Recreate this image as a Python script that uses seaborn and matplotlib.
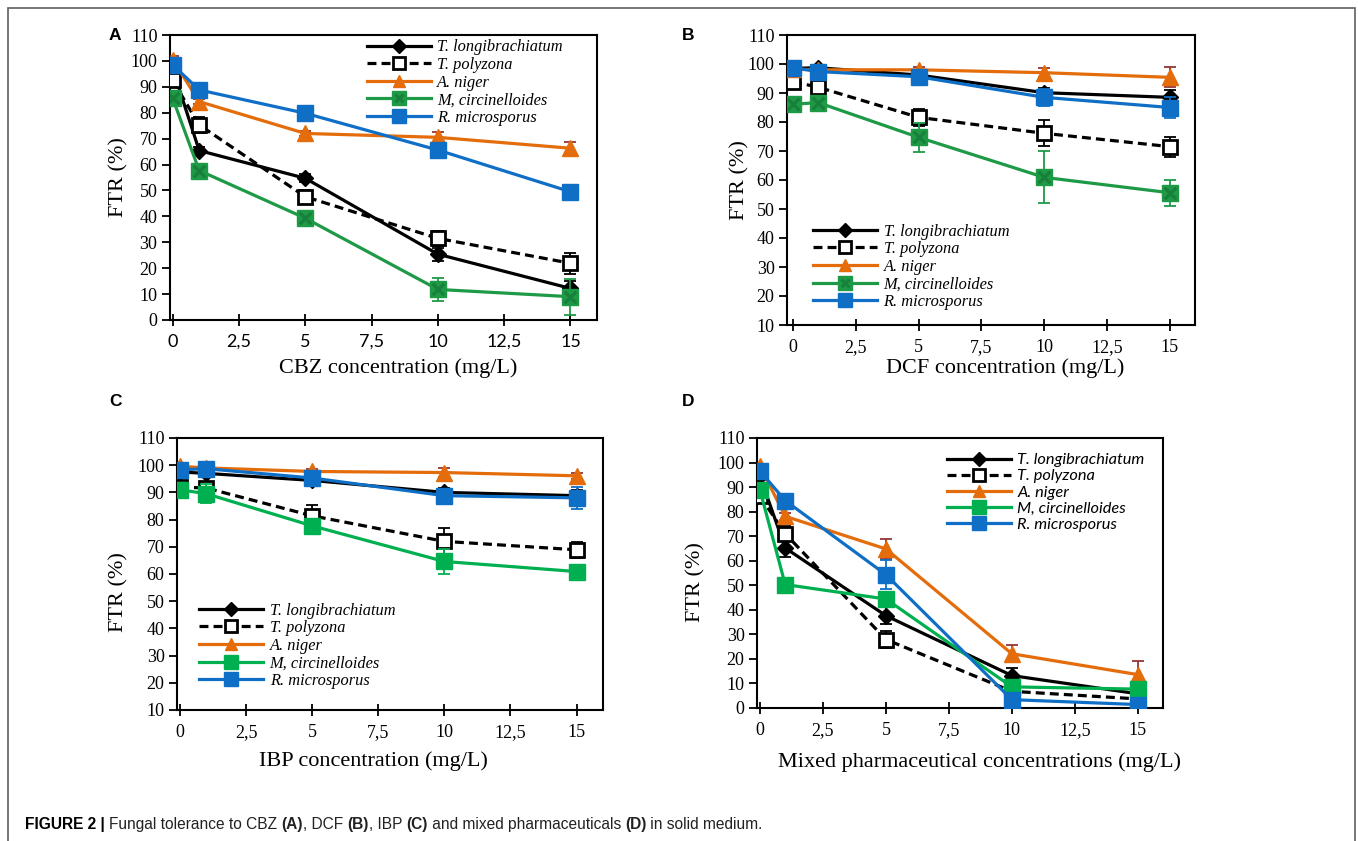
import numpy as np
import pandas as pd
import matplotlib.pyplot as plt
import seaborn as sns
from matplotlib.lines import Line2D
from matplotlib.legend_handler import HandlerTuple
from matplotlib.patches import Rectangle

conc = [0, 1, 5, 10, 15]
species = ['T. longibrachiatum', 'T. polyzona', 'A. niger', 'M, circinelloides', 'R. microsporus']
xtick_vals = [0, 2.5, 5, 7.5, 10, 12.5, 15]
xtick_labels = ['0', '2,5', '5', '7,5', '10', '12,5', '15']

# FTR (%) per species, rows in the order of `species`
cbz_ftr = [[97.0, 65.4, 54.7, 25.4, 12.2],
           [92.5, 75.3, 47.6, 31.5, 21.9],
           [100.5, 84.3, 72.0, 70.5, 66.3],
           [85.6, 57.7, 39.3, 11.8, 9.0],
           [98.5, 88.8, 79.8, 65.6, 49.5]]
cbz_err = [[1.5, 1.5, 1.5, 2.5, 3.0],
           [2.0, 3.0, 2.5, 3.0, 4.0],
           [1.5, 1.0, 1.0, 2.0, 2.5],
           [1.5, 1.5, 1.5, 4.5, 7.0],
           [1.0, 1.0, 1.0, 1.5, 1.0]]

dcf_ftr = [[98.5, 98.7, 96.2, 90.1, 88.5],
           [93.9, 92.0, 81.6, 76.1, 71.5],
           [98.2, 98.0, 98.0, 97.0, 95.4],
           [86.1, 86.7, 74.7, 60.9, 55.6],
           [98.7, 97.4, 95.6, 88.5, 85.0]]
dcf_err = [[1.0, 1.0, 1.0, 1.5, 2.5],
           [1.5, 2.0, 3.0, 4.5, 3.5],
           [1.0, 1.0, 1.0, 1.5, 3.5],
           [1.0, 1.0, 5.0, 9.0, 4.5],
           [1.0, 1.0, 1.5, 3.0, 3.5]]

ibp_ftr = [[97.5, 97.0, 94.4, 90.0, 88.8],
           [92.0, 91.6, 81.4, 72.0, 68.9],
           [99.6, 99.0, 97.7, 97.3, 96.1],
           [91.0, 89.5, 77.7, 64.6, 60.9],
           [98.3, 98.7, 95.3, 88.8, 88.0]]
ibp_err = [[1.0, 1.0, 1.5, 1.5, 2.0],
           [1.5, 1.5, 4.0, 5.0, 3.0],
           [1.0, 1.0, 1.0, 1.5, 1.0],
           [1.5, 3.5, 1.5, 4.5, 1.5],
           [1.0, 1.0, 1.5, 1.5, 4.0]]

mix_ftr = [[94.4, 65.2, 37.6, 13.2, 5.8],
           [86.3, 71.0, 27.9, 6.8, 3.7],
           [98.5, 78.1, 64.8, 22.1, 13.6],
           [88.7, 50.3, 44.4, 8.6, 7.7],
           [96.5, 84.5, 54.3, 3.4, 1.4]]
mix_err = [[1.5, 3.5, 3.5, 3.0, 1.0],
           [2.0, 3.0, 3.5, 1.0, 1.0],
           [1.0, 1.5, 4.0, 3.5, 5.5],
           [1.0, 1.0, 1.5, 1.0, 1.0],
           [1.0, 1.0, 6.0, 1.0, 1.0]]

xlabels = ['CBZ concentration (mg/L)', 'DCF concentration (mg/L)',
           'IBP concentration (mg/L)', 'Mixed pharmaceutical concentrations (mg/L)']

plt.rcParams['font.family'] = ['Liberation Serif', 'DejaVu Serif']

W, H = 1358, 841
fig = plt.figure(figsize=(W / 100, H / 100), dpi=100)


def px_axes(left, top, right, bottom):
    return fig.add_axes([left / W, 1 - bottom / H, (right - left) / W, (bottom - top) / H])


def draw_panel(ax, ftr, err, green, green_x, ymin, xmin, leg_xy, leg_font, tick_font, xtick_size):
    colors = ['#000000', '#000000', '#E46C0A', green, '#0F6FC6']
    ecolors = ['#000000', '#000000', '#943634', green, '#0F6FC6']
    markers = ['D', 's', '^', 's', 's']
    sizes = [8, 10, 11, 12, 12]
    for i, name in enumerate(species):
        ls = (0, (2.8, 1.6)) if i == 1 else '-'
        mfc = 'white' if i == 1 else colors[i]
        ax.errorbar(conc, ftr[i], yerr=err[i], fmt='none', ecolor=ecolors[i],
                    elinewidth=1.3, capsize=4, capthick=1.3, zorder=2 + i, label='_nolegend_')
        sns.lineplot(x=conc, y=ftr[i], ax=ax, color=colors[i], lw=2.3, linestyle=ls,
                     marker=markers[i], markersize=sizes[i], mfc=mfc, mec=colors[i],
                     mew=2 if i == 1 else 1, label=name, zorder=2.5 + i)
        if i == 3 and green_x:
            sns.scatterplot(x=conc, y=ftr[i], ax=ax, marker='x', s=70, color='#17803A',
                            linewidth=2.3, zorder=2.6 + i, legend=False)

    ax.set_xlim(xmin, 16)
    ax.set_ylim(ymin, 110)
    ax.set_xticks(xtick_vals)
    ax.set_xticklabels(xtick_labels)
    ax.set_yticks(range(ymin, 111, 10))
    for t in ax.get_xticklabels():
        t.set_fontfamily(tick_font)
        t.set_fontsize(xtick_size)
    for t in ax.get_yticklabels():
        t.set_fontsize(13)
    ax.tick_params(axis='y', direction='out', length=6, width=1.3, pad=3)
    ax.tick_params(axis='x', direction='inout', length=8, width=1.3, pad=6)
    for s in ax.spines.values():
        s.set_color('black')
        s.set_linewidth(1.5)

    handles, labels = ax.get_legend_handles_labels()
    if green_x:
        xh = Line2D([], [], marker='x', ls='', color='#17803A', ms=7, mew=2.2)
        handles[3] = (handles[3], xh)
    ax.legend(handles, labels, loc='upper left', bbox_to_anchor=leg_xy, frameon=False,
              borderpad=0, borderaxespad=0, handlelength=3.9, handletextpad=0.4,
              labelspacing=0.1, markerscale=0.85, prop=leg_font,
              handler_map={tuple: HandlerTuple(ndivide=1)})


serif_it = dict(family='Liberation Serif', style='italic', size=11.8)
sans_it = dict(family='Lato', style='italic', size=11.8)

axA = px_axes(170, 35, 597, 320)
draw_panel(axA, cbz_ftr, cbz_err, '#1E9A47', True, 0, -0.1, (0.461, 0.985), serif_it, 'Lato', 13)
axB = px_axes(787, 35, 1195, 325)
draw_panel(axB, dcf_ftr, dcf_err, '#1E9A47', True, 10, -0.24, (0.064, 0.35), serif_it, 'Liberation Serif', 13)
axC = px_axes(177, 438, 603, 710)
draw_panel(axC, ibp_ftr, ibp_err, '#00B050', False, 10, -0.11, (0.052, 0.395), serif_it, 'Liberation Serif', 13)
axD = px_axes(757, 438, 1163, 708)
draw_panel(axD, mix_ftr, mix_err, '#00B050', False, 0, -0.12, (0.468, 0.945), sans_it, 'Liberation Serif', 13)

label_pos = [(axA, -0.098, 0.5, 0.534, -0.133), (axB, -0.093, 0.5, 0.534, -0.114),
             (axC, -0.115, 0.434, 0.46, -0.151), (axD, -0.126, 0.467, 0.549, -0.163)]
for (ax, yx, yy, xx, xy), xl in zip(label_pos, xlabels):
    ax.set_ylabel('FTR (%)', fontsize=16)
    ax.set_xlabel(xl, fontsize=16)
    ax.yaxis.set_label_coords(yx, yy)
    ax.xaxis.set_label_coords(xx, xy)

for letter, (x, y) in zip('ABCD', [(115, 35), (688, 35), (115, 402), (688, 402)]):
    fig.text(x / W, 1 - y / H, letter, family='Liberation Sans', weight='bold',
             fontsize=12.5, ha='center', va='center')

fig.add_artist(Rectangle((8 / W, -0.02), (1355 - 8) / W, 1 - 8 / H + 0.02,
                         transform=fig.transFigure, fill=False, ec='#606060', lw=1.2))

# caption with mixed bold / regular pieces
cap = fig.add_axes([0, 0, 1, 1])
cap.axis('off')
pieces = [('FIGURE 2 | ', 'bold'), ('Fungal tolerance to CBZ ', 'normal'), ('(A)', 'bold'),
          (', DCF ', 'normal'), ('(B)', 'bold'), (', IBP ', 'normal'), ('(C)', 'bold'),
          (' and mixed pharmaceuticals ', 'normal'), ('(D)', 'bold'),
          (' in solid medium.', 'normal')]
prev = cap.text(25 / W, 1 - 832 / H, pieces[0][0], transform=fig.transFigure,
                family='Liberation Sans', weight=pieces[0][1], fontsize=11.2, va='bottom')
for txt, wt in pieces[1:]:
    prev = cap.annotate(txt, xy=(1, 0), xycoords=prev, va='bottom', ha='left',
                        family='Liberation Sans', weight=wt, fontsize=11.2, color='#222222')

fig.savefig('out.png', dpi=100)
